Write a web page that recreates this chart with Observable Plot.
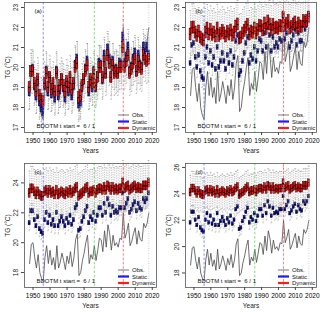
<!DOCTYPE html>
<html><head><meta charset="utf-8">
<script src="https://cdn.jsdelivr.net/npm/d3@7"></script>
<script src="https://cdn.jsdelivr.net/npm/@observablehq/plot@0.6"></script>
<style>
body{margin:0;background:#fff;}
#wrap{position:relative;width:320px;height:316px;overflow:hidden;font-family:"Liberation Sans",Arial,sans-serif;}
.p{position:absolute;}
</style></head><body><div id="wrap"></div>
<script>
const years = [1948,1949,1950,1951,1952,1953,1954,1955,1956,1957,1958,1959,1960,1961,1962,1963,1964,1965,1966,1967,1968,1969,1970,1971,1972,1973,1974,1975,1976,1977,1978,1979,1980,1981,1982,1983,1984,1985,1986,1987,1988,1989,1990,1991,1992,1993,1994,1995,1996,1997,1998,1999,2000,2001,2002,2003,2004,2005,2006,2007,2008,2009,2010,2011,2012,2013,2014,2015,2016,2017,2018];
const obs = [18.6,19.9,20.0,19.0,18.3,19.2,18.0,17.6,17.4,19.0, 19.8,18.6,19.5,18.5,19.0,18.2,19.8,18.3,18.7,19.3, 18.8,18.2,19.1,18.6,19.4,18.4,19.0,20.2,20.6,17.8, 18.0,18.8,19.3,20.0,20.5,18.6,19.2,18.9,19.8,18.8, 19.5,20.3,20.2,19.4,20.8,19.7,21.2,20.6,19.5,20.5, 19.8,20.0,19.7,20.3,20.2,22.0,20.3,20.7,21.3,19.8, 20.1,20.6,21.0,19.9,20.8,20.2,20.1,21.3,21.0,21.3, 22.0];
// medians of the ensembles, per panel
const staticA = [18.8,19.8,19.9,19.1,18.6,19.3,18.3,18.0,17.8,19.1, 19.8,18.8,19.5,18.7,19.1,18.5,19.8,18.6,18.9,19.4, 19.0,18.5,19.2,18.8,19.4,18.6,19.1,20.1,20.4,18.2, 18.3,19.0,19.4,19.9,20.3,18.8,19.3,19.0,19.8,19.0, 19.5,20.2,20.1,19.4,20.6,19.7,20.9,20.4,19.5,20.3, 19.8,19.9,19.7,20.2,20.1,21.5,20.2,20.5,21.0,19.8, 20.0,20.4,20.7,19.8,20.6,20.1,20.0,21.0,20.7,21.0, 20.6];
const dynamicA = [19.0,19.8,19.8,19.2,18.8,19.4,18.6,18.4,18.3,19.2, 19.7,19.0,19.5,18.9,19.2,18.8,19.7,18.8,19.1,19.4, 19.1,18.8,19.3,19.0,19.5,18.9,19.2,20.0,20.2,18.5, 18.6,19.1,19.4,19.8,20.1,19.0,19.4,19.2,19.7,19.1, 19.5,20.0,20.0,19.5,20.3,19.7,20.6,20.2,19.5,20.1, 19.7,19.8,19.7,20.0,20.0,21.0,20.0,20.3,20.6,19.7, 19.9,20.2,20.4,19.8,20.3,20.0,19.9,20.6,20.4,20.3, 20.4];
const staticB = [20.2,21.1,21.2,20.5,20.0,20.6,19.8,19.5,19.4,20.5, 21.0,20.2,20.8,20.1,20.5,19.9,21.0,20.0,20.3,20.7, 20.3,19.9,20.6,20.2,20.8,20.1,20.5,21.3,21.6,19.6, 19.8,20.3,20.7,21.2,21.5,20.2,20.6,20.4,21.0,20.3, 20.8,21.4,21.3,20.8,21.7,21.0,22.0,21.6,20.8,21.5, 21.0,21.2,21.0,21.4,21.3,22.6,21.4,21.7,22.1,21.0, 21.3,21.6,21.9,21.1,21.7,21.3,21.3,22.1,21.9,22.1, 22.6];
const dynamicB = [21.65,21.98,22.00,21.75,21.58,21.80,21.50,21.40,21.35,21.75, 21.95,21.65,21.88,21.63,21.75,21.55,21.95,21.58,21.68,21.83, 21.70,21.55,21.78,21.65,21.85,21.60,21.75,22.05,22.15,21.45, 21.50,21.70,21.83,22.00,22.13,21.65,21.80,21.73,21.95,21.70, 21.88,22.08,22.05,21.85,22.20,21.93,22.30,22.15,21.88,22.13, 21.95,22.00,21.93,22.08,22.05,22.50,22.08,22.18,22.33,21.95, 22.03,22.15,22.25,21.98,22.20,22.05,22.03,22.33,22.25,22.33, 22.50];
const staticC = [21.3,22.1,22.1,21.5,21.1,21.7,20.9,20.7,20.6,21.5, 22.0,21.3,21.8,21.2,21.5,21.1,22.0,21.1,21.4,21.7, 21.4,21.1,21.6,21.3,21.8,21.2,21.5,22.3,22.5,20.8, 20.9,21.4,21.7,22.1,22.4,21.3,21.7,21.5,22.0,21.4, 21.8,22.3,22.3,21.8,22.6,22.0,22.9,22.5,21.8,22.4, 22.0,22.1,22.0,22.3,22.3,23.3,22.3,22.6,22.9,22.0, 22.2,22.5,22.7,22.1,22.6,22.3,22.2,22.9,22.7,22.9, 23.3];
const dynamicC = [23.3,23.6,23.6,23.4,23.2,23.4,23.2,23.1,23.1,23.4, 23.5,23.3,23.5,23.3,23.4,23.2,23.5,23.2,23.3,23.4, 23.3,23.2,23.4,23.3,23.5,23.3,23.4,23.6,23.7,23.1, 23.2,23.3,23.4,23.6,23.7,23.3,23.4,23.4,23.5,23.3, 23.5,23.6,23.6,23.5,23.7,23.5,23.8,23.7,23.5,23.7, 23.5,23.6,23.5,23.6,23.6,24.0,23.6,23.7,23.8,23.5, 23.6,23.7,23.8,23.6,23.7,23.6,23.6,23.8,23.8,23.8, 24.0];
const staticD = [21.8,22.6,22.6,22.0,21.6,22.2,21.4,21.2,21.1,22.0, 22.5,21.8,22.3,21.7,22.0,21.6,22.5,21.6,21.9,22.2, 21.9,21.6,22.1,21.8,22.3,21.7,22.0,22.8,23.0,21.3, 21.4,21.9,22.2,22.6,22.9,21.8,22.2,22.0,22.5,21.9, 22.3,22.8,22.8,22.3,23.1,22.5,23.4,23.0,22.3,22.9, 22.5,22.6,22.5,22.8,22.8,23.8,22.8,23.1,23.4,22.5, 22.7,23.0,23.2,22.6,23.1,22.8,22.7,23.4,23.2,23.4, 23.8];
const dynamicD = [24.1,24.4,24.4,24.2,24.0,24.2,24.0,23.9,23.9,24.2, 24.3,24.1,24.3,24.1,24.2,24.0,24.3,24.0,24.1,24.2, 24.1,24.0,24.2,24.1,24.3,24.1,24.2,24.4,24.5,23.9, 24.0,24.1,24.2,24.4,24.5,24.1,24.2,24.2,24.3,24.1, 24.3,24.4,24.4,24.3,24.5,24.3,24.6,24.5,24.3,24.5, 24.3,24.4,24.3,24.4,24.4,24.8,24.4,24.5,24.6,24.3, 24.4,24.5,24.6,24.4,24.5,24.4,24.4,24.6,24.6,24.6, 24.8];
// ensemble spread (half interquartile range, whisker reach) per panel a..d
const staticIqrHalf = [0.25,0.12,0.14,0.14];
const staticWhisker = [0.9,0.5,0.5,0.5];
const dynamicIqrHalf = [0.28,0.3,0.3,0.3];
const dynamicWhisker = [1.1,1.2,1.5,1.3];
const panelLabels = ["(a)","(b)","(c)","(d)"];
const yTicks = [[17,18,19,20,21,22,23],[17,18,19,20,21,22,23],[18,20,22,24],[18,20,22,24,26]];
const yDomains = [[16.75,23.25],[16.75,23.25],[17.0,25.3],[16.9,26.3]];
const xTicks = [1950,1960,1970,1980,1990,2000,2010,2020];
const refYears = [1956,1986,2003,2018];
const refColors = ["#7070ff","#66d066","#ff6060","#c8c8c8"];
const legendLabels = ["Obs.","Static","Dynamic"];
const startText = "BDOTM t start =  6 / 1";

const statics = [staticA,staticB,staticC,staticD];
const dynamics = [dynamicA,dynamicB,dynamicC,dynamicD];
const wrap = document.getElementById("wrap");

function rowsFor(meds, h, w) {
  return years.map((y,i)=>({year:y, med:meds[i], q1:meds[i]-h, q3:meds[i]+h, lo:meds[i]-w, hi:meds[i]+w}));
}
function boxMarks(rows, fill) {
  const bw = 0.6;
  return [
    Plot.ruleX(rows,{x:"year",y1:"q3",y2:"hi",stroke:"#8a8a8a",strokeWidth:0.5,strokeDasharray:"1.2,1.2"}),
    Plot.ruleX(rows,{x:"year",y1:"lo",y2:"q1",stroke:"#8a8a8a",strokeWidth:0.5,strokeDasharray:"1.2,1.2"}),
    Plot.ruleY(rows,{y:"hi",x1:d=>d.year-0.4,x2:d=>d.year+0.4,stroke:"#888",strokeWidth:0.5}),
    Plot.ruleY(rows,{y:"lo",x1:d=>d.year-0.4,x2:d=>d.year+0.4,stroke:"#888",strokeWidth:0.5}),
    Plot.rect(rows,{x1:d=>d.year-bw,x2:d=>d.year+bw,y1:"q1",y2:"q3",fill,stroke:"#000",strokeWidth:0.4}),
    Plot.ruleY(rows,{y:"med",x1:d=>d.year-bw,x2:d=>d.year+bw,stroke:"#000",strokeWidth:0.9})
  ];
}

for (let k=0;k<4;k++){
  const col = k%2, row = Math.floor(k/2);
  const mt = row===0?2:5, mb = row===0?26:29, ml = col===0?24:25, mr = 4;
  const W = 160, H = 158;
  const sRows = rowsFor(statics[k], staticIqrHalf[k], staticWhisker[k]);
  const dRows = rowsFor(dynamics[k], dynamicIqrHalf[k], dynamicWhisker[k]);
  const obsRows = years.map((y,i)=>({year:y, v:obs[i]}));
  const refMarks = refYears.map((yr,i)=>Plot.ruleX([yr],{x:d=>d,stroke:refColors[i],strokeWidth:i===3?0.9:0.8,strokeDasharray:i===3?"1,1.5":"2.5,1.8"}));
  const svg = Plot.plot({
    width:W, height:H, marginTop:mt, marginBottom:mb, marginLeft:ml, marginRight:mr,
    style:{fontFamily:"'Liberation Sans',Arial,sans-serif",fontSize:"6.5px",background:"transparent",overflow:"visible"},
    x:{domain:[1945,2022.5]},
    y:{domain:yDomains[k]},
    marks:[
      Plot.line(obsRows,{x:"year",y:"v",stroke:"#4a4a4a",strokeWidth:0.8}),
      ...boxMarks(sRows,"#1414c8"),
      ...boxMarks(dRows,"#e81010"),
      ...refMarks,
      Plot.frame({stroke:"#555",strokeWidth:0.8}),
      Plot.axisX({ticks:xTicks,tickSize:3,tickPadding:2.5,label:null,tickFormat:d=>String(d),fontSize:6.5,stroke:"#444"}),
      Plot.axisY({ticks:yTicks[k],tickSize:3,tickFormat:()=>"",label:null,stroke:"#444"}),
      Plot.text(yTicks[k],{y:d=>d,text:d=>String(d),frameAnchor:"left",dx:-9,rotate:-90,textAnchor:"middle",fontSize:6.5,fill:"#222"}),
      Plot.text(["TG (°C)"],{frameAnchor:"left",dx:-17,rotate:-90,textAnchor:"middle",fontSize:6.5,fill:"#222"}),
      Plot.text(["Years"],{frameAnchor:"bottom",dy:20,fontSize:6.5,fill:"#222"}),
      Plot.text([startText],{frameAnchor:"bottom-left",dx:12,dy:-5,textAnchor:"start",fontSize:6,fill:"#111"}),
      Plot.text([panelLabels[k]],{frameAnchor:"top-left",dx:10,dy:6,textAnchor:"start",fontSize:6,fill:"#111"})
    ]
  });
  // legend in bottom-right of the frame
  const g = d3.select(svg).append("g").attr("font-size","6px").attr("fill","#111").attr("text-anchor","start");
  const fx = W - mr, fy = H - mb;
  const lcol = ["#555","#1a1aff","#ff1a1a"], lw = [0.8,2.2,2.2];
  legendLabels.forEach((t,i)=>{
    const yy = fy - 17 + i*6.5;
    g.append("line").attr("x1",fx-38).attr("x2",fx-27).attr("y1",yy).attr("y2",yy).attr("stroke",lcol[i]).attr("stroke-width",lw[i]);
    g.append("text").attr("x",fx-24).attr("y",yy).attr("dy","0.35em").attr("text-anchor","start").text(t);
  });
  const div = document.createElement("div");
  div.className = "p";
  div.style.left = (col*160)+"px";
  div.style.top = (row*158)+"px";
  div.appendChild(svg);
  wrap.appendChild(div);
}
</script></body></html>
